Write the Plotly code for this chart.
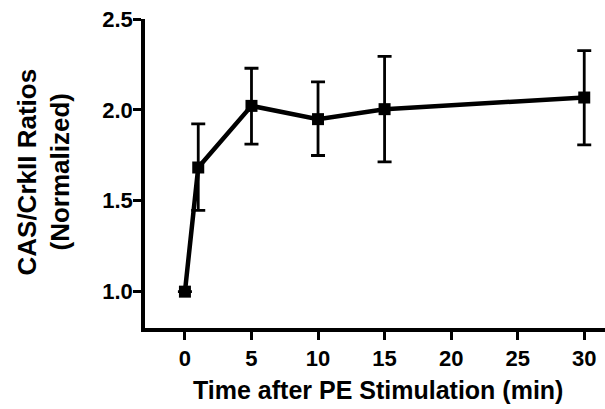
import plotly.graph_objects as go

time_min = [0, 1, 5, 10, 15, 30]
ratio = [1.0, 1.683, 2.022, 1.949, 2.004, 2.068]
err_plus = [0.0, 0.24, 0.207, 0.205, 0.29, 0.258]
err_minus = [0.0, 0.236, 0.21, 0.20, 0.29, 0.26]
x_ticks = [0, 5, 10, 15, 20, 25, 30]
y_ticks = [1.0, 1.5, 2.0, 2.5]
y_tick_text = ["1.0", "1.5", "2.0", "2.5"]
x_title = "Time after PE Stimulation (min)"
y_title_lines = ["CAS/CrkII Ratios", "(Normalized)"]

FONT = "Arial, Liberation Sans, Helvetica, sans-serif"

fig = go.Figure()
fig.add_trace(go.Scatter(
    x=time_min, y=ratio, mode="lines+markers",
    line=dict(color="black", width=4.5),
    marker=dict(symbol="square", size=12, color="black"),
    error_y=dict(type="data", symmetric=False, array=err_plus, arrayminus=err_minus,
                 color="black", thickness=2.8, width=7),
    showlegend=False,
))

L, R, T, B = 145, 0, 19, 81
W, H = 605, 409
pw = W - L - R
ph = H - T - B

fig.update_layout(
    width=W, height=H,
    margin=dict(l=L, r=R, t=T, b=B, pad=0),
    plot_bgcolor="white", paper_bgcolor="white",
    font=dict(family=FONT, color="black", size=22, weight="bold"),
    xaxis=dict(range=[-3.0, 31.56], tickvals=x_ticks, ticks="outside", ticklen=8,
               tickwidth=3, tickcolor="black", showline=True, linewidth=3.5,
               linecolor="black", showgrid=False, zeroline=False,
               tickfont=dict(size=22, family=FONT, weight="bold")),
    yaxis=dict(range=[0.8, 2.5], tickvals=y_ticks, ticktext=y_tick_text,
               ticks="outside", ticklen=8, tickwidth=3, tickcolor="black",
               ticklabelstandoff=-4,
               showline=True, linewidth=3.5, linecolor="black", showgrid=False,
               zeroline=False, tickfont=dict(size=22, family=FONT, weight="bold")),
)

def px_x(px):
    return (px - L) / pw

def px_y(py):
    return (H - B - py) / ph

fig.add_annotation(text=x_title, xref="paper", yref="paper",
                   x=px_x(377.5), y=px_y(390), xanchor="center", yanchor="middle",
                   showarrow=False, font=dict(size=25, family=FONT, weight="bold"))
fig.add_annotation(text=y_title_lines[0], xref="paper", yref="paper",
                   x=px_x(26), y=px_y(172.5), xanchor="center", yanchor="middle",
                   textangle=-90, showarrow=False,
                   font=dict(size=26, family=FONT, weight="bold"))
fig.add_annotation(text=y_title_lines[1], xref="paper", yref="paper",
                   x=px_x(59), y=px_y(172.5), xanchor="center", yanchor="middle",
                   textangle=-90, showarrow=False,
                   font=dict(size=26, family=FONT, weight="bold"))

fig.write_html("out.html")
